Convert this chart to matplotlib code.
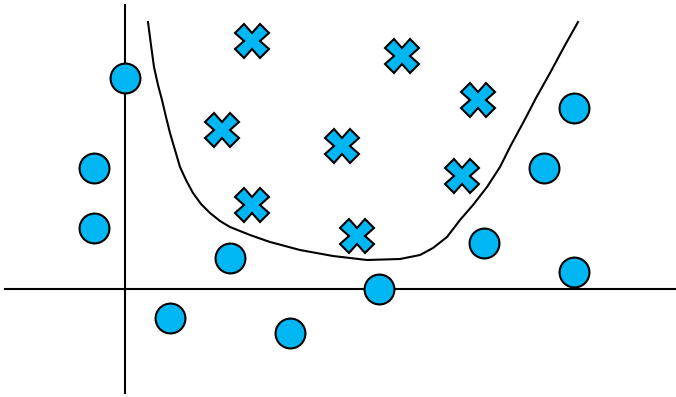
import matplotlib.pyplot as plt
import numpy as np

# data in pixel-like units, origin where the two axis lines cross
circle_x = [0, -31, -31, 105, 45, 165, 254, 359, 419, 449, 449]
circle_y = [211, 121, 61, 31, -29, -44, 0, 46, 121, 181, 17]

cross_x = [127, 277, 353, 97, 217, 337, 127, 232]
cross_y = [248, 233, 189, 159, 143, 113, 84, 53]

# decision boundary
curve_x = [23, 26, 29, 33, 37, 41, 45, 50, 55, 61, 68, 76, 85, 95, 105,
           125, 145, 175, 208, 242, 275, 295, 308, 322, 335, 348, 362,
           375, 386, 398, 411, 425, 439, 453]
curve_y = [267, 244, 222, 204, 189, 172, 156, 139, 122, 109, 96, 85, 76,
           68, 62, 54, 47, 39, 33, 29, 30, 34, 41, 52, 69, 84, 102, 122,
           144, 166, 191, 216, 242, 267]

blue = "#00b7f4"

fig = plt.figure(figsize=(6.76, 3.97), dpi=100)
ax = fig.add_axes([0, 0, 1, 1])

# the two axis lines
ax.plot([-120, 551], [0, 0], color="black", linewidth=1.5, zorder=1)
ax.plot([0, 0], [-104, 284], color="black", linewidth=1.5, zorder=1)

ax.plot(curve_x, curve_y, color="black", linewidth=1.5,
        solid_joinstyle="round", zorder=2)

ax.plot(circle_x, circle_y, "o", markersize=21.5, markerfacecolor=blue,
        markeredgecolor="black", markeredgewidth=1.5, zorder=3)
ax.plot(cross_x, cross_y, "X", markersize=24, markerfacecolor=blue,
        markeredgecolor="black", markeredgewidth=1.5, zorder=3)

ax.set_xlim(-125, 551)
ax.set_ylim(-108, 289)
ax.axis("off")

fig.savefig("out.png", dpi=100)
